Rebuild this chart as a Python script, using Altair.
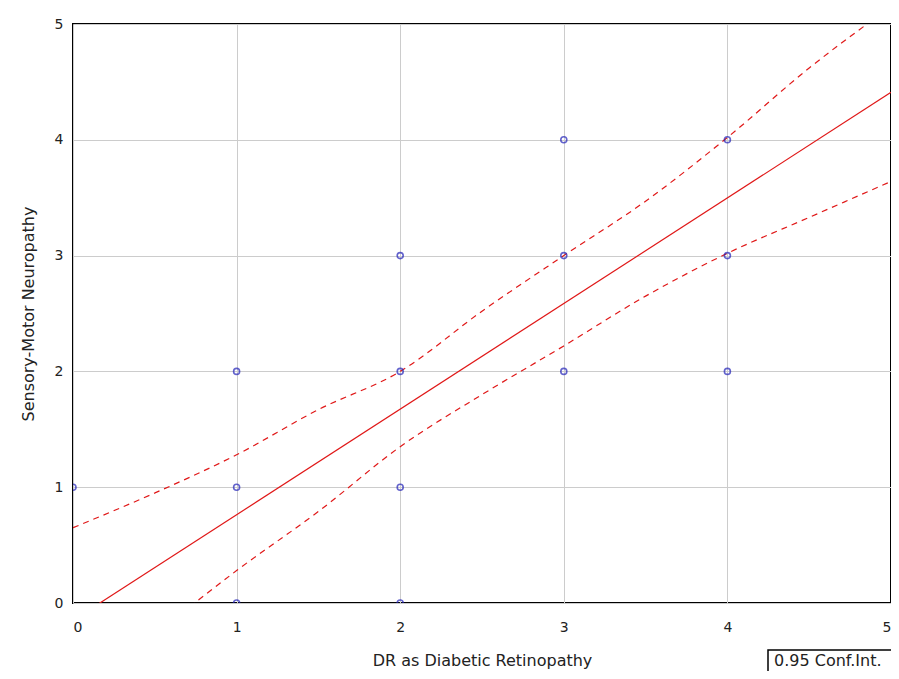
import altair as alt
import pandas as pd

# scatter data
pts_x = [0, 1, 1, 1, 2, 2, 2, 2, 3, 3, 3, 4, 4, 4]
pts_y = [1, 0, 1, 2, 0, 1, 2, 3, 2, 3, 4, 2, 3, 4]

# regression line
fit_x = [0.0, 5.0]
fit_y = [-0.15, 4.41]

# 0.95 confidence band
ci_x = [0.0, 0.5, 1.0, 1.5, 2.0, 2.5, 3.0, 3.5, 4.0, 4.5, 5.0]
ci_upper = [0.65, 0.95, 1.28, 1.67, 2.0, 2.52, 3.0, 3.47, 4.02, 4.62, 5.15]
ci_lower = [-0.9, -0.28, 0.28, 0.79, 1.35, 1.8, 2.22, 2.65, 3.02, 3.33, 3.64]

x_ticks = [0, 1, 2, 3, 4, 5]
y_ticks = [0, 1, 2, 3, 4, 5]

FONT = "DejaVu Sans"
W, H = 818, 579

pts = pd.DataFrame({"x": pts_x, "y": pts_y})
fit = pd.DataFrame({"x": fit_x, "y": fit_y})
ci = pd.concat([
    pd.DataFrame({"x": ci_x, "y": ci_upper, "band": "upper"}),
    pd.DataFrame({"x": ci_x, "y": ci_lower, "band": "lower"}),
])

xscale = alt.Scale(domain=[0, 5], nice=False, zero=False)
yscale = alt.Scale(domain=[0, 5], nice=False, zero=False)

xaxis = alt.Axis(values=x_ticks, title="DR as Diabetic Retinopathy", grid=True,
                 ticks=False, domain=False, labelPadding=17, format="d",
                 titleX=W / 2, titleY=62, titleBaseline="alphabetic")
yaxis = alt.Axis(values=y_ticks, title="Sensory-Motor Neuropathy", grid=True,
                 ticks=False, domain=False, labelPadding=10, format="d",
                 titleX=-37, titleY=H / 2)

points = alt.Chart(pts).mark_point(
    shape="circle", size=36, filled=False, color="#2222b8", strokeWidth=1.6, clip=True
).encode(
    x=alt.X("x:Q", scale=xscale, axis=xaxis),
    y=alt.Y("y:Q", scale=yscale, axis=yaxis),
)

fit_line = alt.Chart(fit).mark_line(color="#e01818", strokeWidth=1.2, clip=True).encode(
    x=alt.X("x:Q", scale=xscale), y=alt.Y("y:Q", scale=yscale)
)

ci_lines = alt.Chart(ci).mark_line(
    color="#e01818", strokeWidth=1.2, strokeDash=[6, 5], clip=True, interpolate="monotone"
).encode(
    x=alt.X("x:Q", scale=xscale), y=alt.Y("y:Q", scale=yscale), detail="band:N"
)

one = pd.DataFrame({"a": [0]})
box = alt.Chart(one).mark_rect(fill="white", stroke="black", strokeWidth=1.5).encode(
    x=alt.value(695), x2=alt.value(840), y=alt.value(626), y2=alt.value(680)
)
box_text = alt.Chart(one).mark_text(
    text="0.95 Conf.Int.", align="left", baseline="alphabetic",
    font=FONT, fontSize=16, color="#222222"
).encode(x=alt.value(701), y=alt.value(642))

chart = alt.layer(ci_lines, fit_line, points, box, box_text).properties(
    width=W, height=H,
    autosize=alt.AutoSizeParams(type="none"),
    padding={"left": 65, "top": 16, "right": 0, "bottom": 68},
).configure_view(
    stroke="black", strokeWidth=2
).configure_axis(
    gridColor="#cccccc", gridWidth=1,
    labelFont=FONT, labelFontSize=14, labelColor="#222222",
    titleFont=FONT, titleFontSize=16, titleColor="#222222", titleFontWeight="normal",
)

chart.save("out.html", embed_options={"renderer": "svg", "actions": False})
